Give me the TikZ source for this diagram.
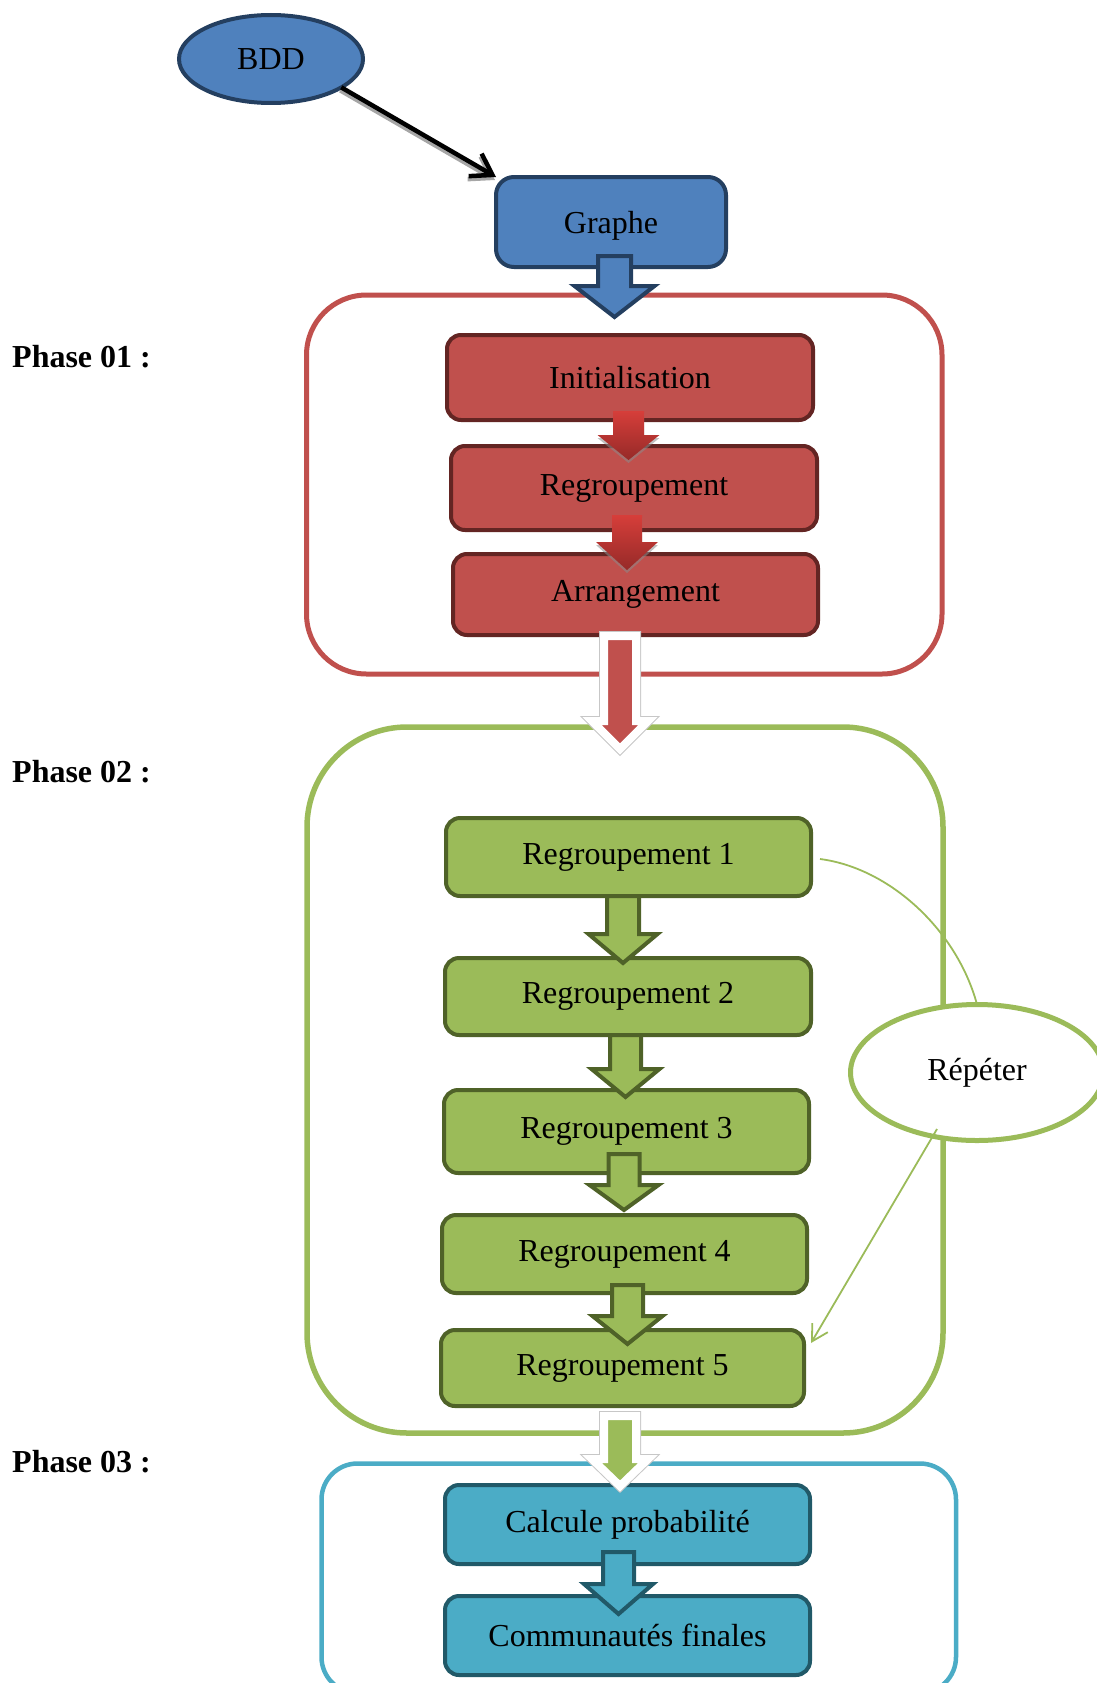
\documentclass[tikz,border=0pt]{standalone}
\usepackage{fontspec}
\setmainfont{Liberation Serif}
\usetikzlibrary{calc,arrows.meta,shapes.geometric}

\definecolor{blueFill}{HTML}{4F81BD}
\definecolor{blueLine}{HTML}{243F60}
\definecolor{redFill}{HTML}{C0504D}
\definecolor{redLine}{HTML}{632523}
\definecolor{redTop}{HTML}{D63E3A}
\definecolor{redBottom}{HTML}{962A28}
\definecolor{greenFill}{HTML}{9BBB59}
\definecolor{greenLine}{HTML}{4F6228}
\definecolor{tealFill}{HTML}{4BACC6}
\definecolor{tealLine}{HTML}{215968}

% block arrow: #1 style, #2 top point (gives the top edge), #3 tip point,
% #4 half width of the shaft, #5 half width of the head, #6 head length (pt)
\newcommand\blockarrow[6]{%
  \path[#1] let \p1=#2, \p2=#3 in
    (\x2-#4pt,\y1) -- (\x2+#4pt,\y1) -- (\x2+#4pt,\y2+#6pt) -- (\x2+#5pt,\y2+#6pt)
    -- (\x2,\y2) -- (\x2-#5pt,\y2+#6pt) -- (\x2-#4pt,\y2+#6pt) -- cycle;}

\begin{document}
\begin{tikzpicture}[x=1pt,y=-1pt,
  font=\fontsize{32}{38}\selectfont,
  boxbase/.style={rectangle, rounded corners=14pt, line width=4pt,
    outer sep=0pt, inner sep=0pt, text=black},
  bluebox/.style={boxbase, fill=blueFill, draw=blueLine},
  redbox/.style={boxbase, fill=redFill, draw=redLine},
  greenbox/.style={boxbase, fill=greenFill, draw=greenLine},
  tealbox/.style={boxbase, fill=tealFill, draw=tealLine},
  phaselabel/.style={anchor=base west, inner sep=0pt, font=\fontsize{32}{38}\selectfont\bfseries},
  bluearrow/.style={fill=blueFill, draw=blueLine, line width=4pt},
  greenarrow/.style={fill=greenFill, draw=greenLine, line width=4pt},
  tealarrow/.style={fill=tealFill, draw=tealLine, line width=4pt},
  redarrow/.style={top color=redTop, bottom color=redBottom},
  arrowshadow/.style={fill=black!45, opacity=0.55, transform canvas={yshift=-3pt}},
  bigshadow/.style={draw=black!22, line width=10pt},
  bigarrow/.style={draw=white, line width=8pt, fill=#1},
  repeatline/.style={draw=greenFill, line width=1.8pt}
]
\useasboundingbox (0,0) rectangle (1096,1683);

% phase frames
\draw[redFill, line width=5pt, rounded corners=60pt] (306.5,295) rectangle (942,674);
\draw[greenFill, line width=5.5pt, rounded corners=100pt] (307,727) rectangle (943,1433);
\draw[tealFill, line width=4.5pt, rounded corners=36pt] (321.5,1463.5) rectangle (956,1693);

% phase labels
\node[phaselabel] (p1) at (12,367) {Phase 01 :};
\node[phaselabel] (p2) at (12,782) {Phase 02 :};
\node[phaselabel] (p3) at (12,1472) {Phase 03 :};

% input
\node[ellipse, fill=blueFill, draw=blueLine, line width=4pt, inner sep=0pt, outer sep=0pt,
  minimum width=184pt, minimum height=88pt] (bdd) at (271,59) {BDD};
\node[bluebox, rounded corners=18pt, minimum width=230pt, minimum height=90pt,
  text depth=0pt] (graphe) at (611,222) {Graphe};

\draw[line width=4.5pt, black!35, -{Straight Barb[length=20pt,width=26pt]},
  transform canvas={xshift=-1pt,yshift=-3pt}] (bdd.-22) -- (graphe.north west);
\draw[line width=4.5pt, black, -{Straight Barb[length=20pt,width=26pt]}] (bdd.-22) -- (graphe.north west);

% phase 01
\node[redbox, minimum width=366pt, minimum height=85pt] (init) at (630,377.5) {Initialisation};
\node[redbox, minimum width=366pt, minimum height=84pt] (reg) at (634,488) {Regroupement};
\node[redbox, minimum width=365pt, minimum height=81pt] (arr) at (635.5,594.5) {Arrangement};

% phase 02
\node[greenbox, minimum width=365pt, minimum height=78pt] (r1) at (628.5,857) {Regroupement 1};
\node[greenbox, minimum width=366pt, minimum height=77pt] (r2) at (628,996.5) {Regroupement 2};
\node[greenbox, minimum width=365pt, minimum height=83pt] (r3) at (626.5,1131.5) {Regroupement 3};
\node[greenbox, minimum width=365pt, minimum height=78pt] (r4) at (624.5,1254) {Regroupement 4};
\node[greenbox, minimum width=363pt, minimum height=76pt] (r5) at (622.5,1368) {Regroupement 5};

% phase 03
\node[tealbox, minimum width=365pt, minimum height=79pt] (proba) at (627.5,1524.5) {Calcule probabilité};
\node[tealbox, minimum width=365pt, minimum height=79pt] (comm) at (627.5,1635.5) {Communautés finales};

% block arrows
\blockarrow{bluearrow}{($(graphe.south)+(3.5,-11)$)}{($(graphe.south)+(3.5,50)$)}{16.5}{40}{31}

\blockarrow{arrowshadow}{($(init.south)+(-1.5,-9)$)}{($(init.south)+(-1.5,40)$)}{15.5}{31}{25}
\blockarrow{redarrow}{($(init.south)+(-1.5,-9)$)}{($(init.south)+(-1.5,40)$)}{15.5}{31}{25}
\blockarrow{arrowshadow}{($(reg.south)+(-7,-15)$)}{($(reg.south)+(-7,40)$)}{15}{31}{28}
\blockarrow{redarrow}{($(reg.south)+(-7,-15)$)}{($(reg.south)+(-7,40)$)}{15}{31}{28}

\blockarrow{bigshadow}{($(arr.south)+(-15.5,1)$)}{($(arr.south)+(-15.5,114)$)}{16}{28}{28}
\blockarrow{bigarrow=redFill}{($(arr.south)+(-15.5,1)$)}{($(arr.south)+(-15.5,114)$)}{16}{28}{28}

\blockarrow{greenarrow}{($(r1.south)+(-5.5,0)$)}{($(r1.south)+(-5.5,67)$)}{16}{34.5}{29}
\blockarrow{greenarrow}{($(r2.south)+(-2.5,0)$)}{($(r2.south)+(-2.5,62)$)}{15.5}{34}{28}
\blockarrow{greenarrow}{($(r3.south)+(-2.5,-19)$)}{($(r3.south)+(-2.5,37)$)}{15.5}{34.5}{25}
\blockarrow{greenarrow}{($(r4.south)+(3,-8)$)}{($(r4.south)+(3,51)$)}{15.5}{35}{28}

\blockarrow{bigshadow}{($(r5.south)+(-2.5,10)$)}{($(r5.south)+(-2.5,80)$)}{16}{28}{27}
\blockarrow{bigarrow=greenFill}{($(r5.south)+(-2.5,10)$)}{($(r5.south)+(-2.5,80)$)}{16}{28}{27}

\blockarrow{tealarrow}{($(proba.south)+(-9,-12)$)}{($(proba.south)+(-9,50)$)}{15.5}{34.5}{30}

% repetition loop
\draw[repeatline] ($(r1.east)+(9,2)$) .. controls +(70,9) and +(-20,-74) .. (977,1004.5) coordinate (reptop);
\node[ellipse, fill=white, draw=greenFill, line width=5pt, inner sep=0pt, outer sep=0pt,
  minimum width=253pt, minimum height=136pt] (rep) at (977,1072.5) {Répéter};
\draw[repeatline, -{Straight Barb[length=16pt,width=18pt]}]
  ($(rep.center)+(-40,56.5)$) -- ($(r5.north east)+(7,13)$);
\end{tikzpicture}
\end{document}
